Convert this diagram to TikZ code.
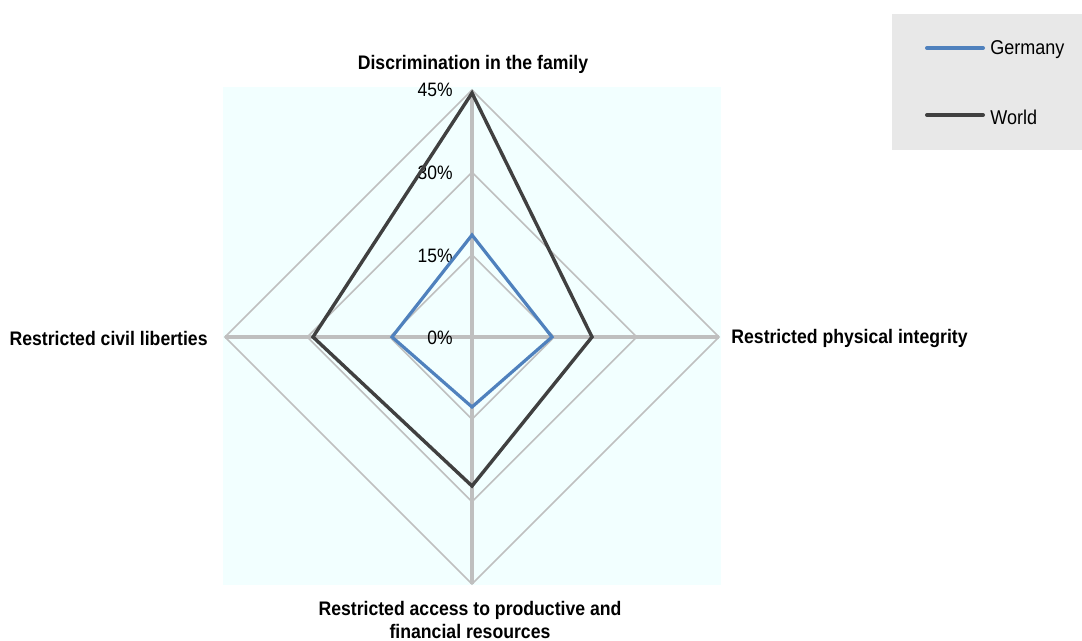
\documentclass[tikz,border=0pt]{standalone}
\usepackage{fontspec}
\setmainfont[FakeStretch=0.9]{Liberation Sans}
\definecolor{gerblue}{RGB}{79,129,189}
\definecolor{worldgray}{RGB}{64,64,64}
\definecolor{gridgray}{RGB}{191,191,191}
\definecolor{plotbg}{RGB}{242,255,255}
\definecolor{legbg}{RGB}{232,232,232}
\newcommand{\labfont}{\fontsize{9.8pt}{11.5pt}\selectfont\bfseries}
\newcommand{\tickfont}{\fontsize{9.7pt}{11pt}\selectfont}

\begin{document}
\begin{tikzpicture}[x=0.5pt, y=-0.5pt,
    ring/.style={draw=gridgray, line width=0.8pt},
    spoke/.style={draw=gridgray, line width=2pt},
    germany/.style={draw=gerblue, line width=1.6pt, line join=miter},
    world/.style={draw=worldgray, line width=1.7pt, line join=miter},
    axlabel/.style={font=\labfont, inner sep=0pt},
    ticklabel/.style={font=\tickfont, anchor=east, inner sep=0pt},
    legtext/.style={font=\fontsize{10pt}{12pt}\selectfont, anchor=west, inner sep=0pt}]
    \useasboundingbox (0,0) rectangle (1082,641);
    % plot area
    \fill[plotbg] (223,87) rectangle (721,585);
    \coordinate (c) at (472,337);
    \coordinate (top) at (472,90);
    \coordinate (right) at (719,337);
    \coordinate (bottom) at (472,584);
    \coordinate (left) at (225,337);
    % rings at 15, 30, 45 %
    \foreach \r in {82.33,164.67,247}
        \draw[ring] (472,{337-\r}) -- ({472+\r},337) -- (472,{337+\r}) -- ({472-\r},337) -- cycle;
    \draw[spoke] (top) -- (bottom);
    \draw[spoke] (left) -- (right);
    % tick labels
    \node[ticklabel] (t0) at (453,338) {0\%};
    \node[ticklabel] (t15) at (453,255.5) {15\%};
    \node[ticklabel] (t30) at (453,173) {30\%};
    \node[ticklabel] (t45) at (453,90) {45\%};
    % series
    \coordinate (gt) at (472,235);
    \coordinate (gr) at (552,337);
    \coordinate (gb) at (472,407);
    \coordinate (gl) at (392,337);
    \draw[germany] (gt) -- (gr) -- (gb) -- (gl) -- cycle;
    \coordinate (wt) at (472,93);
    \coordinate (wr) at (592,337);
    \coordinate (wb) at (472,486);
    \coordinate (wl) at (313,337);
    \draw[world] (wt) -- (wr) -- (wb) -- (wl) -- cycle;
    % axis labels
    \node[axlabel] (disc) at (473,64) {Discrimination in the family};
    \node[axlabel, anchor=west] (phys) at (731,338) {Restricted physical integrity};
    \node[axlabel, anchor=east] (civil) at (208,338) {Restricted civil liberties};
    \node[axlabel, anchor=north, align=center] (access) at (470,601) {Restricted access to productive and\\financial resources};
    % legend
    \fill[legbg] (892,14) rectangle (1082,150);
    \coordinate (g1) at (927,48);
    \coordinate (g2) at (983,48);
    \coordinate (w1) at (927,115);
    \coordinate (w2) at (983,115);
    \draw[gerblue, line width=2pt, line cap=round] (g1) -- (g2);
    \draw[worldgray, line width=2pt, line cap=round] (w1) -- (w2);
    \node[legtext] (gname) at (990,50) {Germany};
    \node[legtext] (wname) at (990,117) {World};
\end{tikzpicture}
\end{document}
